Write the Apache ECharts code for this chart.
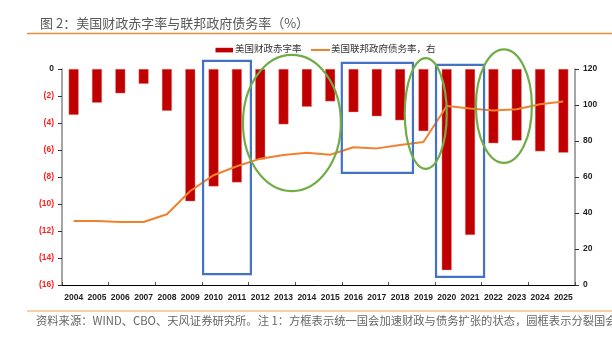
<!DOCTYPE html>
<html>
<head>
<meta charset="utf-8">
<script src="https://cdn.jsdelivr.net/npm/echarts@6/dist/echarts.min.js"></script>
<style>html,body{margin:0;padding:0;background:#fff;}#c{width:612px;height:342px;}</style>
</head>
<body>
<div id="c"></div>
<script>
// ---- data ----
const years = ['2004','2005','2006','2007','2008','2009','2010','2011','2012','2013','2014','2015','2016','2017','2018','2019','2020','2021','2022','2023','2024','2025'];
const deficit = [-3.4,-2.5,-1.8,-1.1,-3.1,-9.8,-8.7,-8.4,-6.7,-4.1,-2.8,-2.4,-3.2,-3.5,-3.8,-4.6,-14.9,-12.3,-5.5,-5.3,-6.1,-6.2];
const debt = [35.5,35.5,35.0,35.0,39.3,52.2,61.0,66.0,70.2,72.2,73.5,72.4,76.5,75.9,77.8,79.4,99.4,98.0,96.9,97.6,100.4,102.0];
const seriesNames = ['美国财政赤字率','美国联邦政府债务率，右'];
const leftTicks = {min:-16, max:0, interval:2};
const rightTicks = {min:0, max:120, interval:20};
// annotation spans (category index range, left-axis value range)
const boxes = [[5.55,7.6,0.6,-15.2],[11.5,14.55,0.45,-7.7],[15.54,17.6,0.3,-15.4]];
const ovals = [[9.36,-4.0,2.1,5.05],[15.1,-3.3,0.9,4.1],[18.45,-2.75,1.2,4.2]];

const G = {left:62, right:37, top:69, bottom:57};
const W = 612, H = 342;
const pw = W - G.left - G.right, ph = H - G.top - G.bottom;
const cw = pw / years.length;
const xp = i => G.left + (i + 0.5) * cw;
const yp = v => G.top + (leftTicks.max - v) / (leftTicks.max - leftTicks.min) * ph;

const chart = echarts.init(document.getElementById('c'));
const cjk = '"Noto Sans CJK SC", sans-serif';
const num = '"Liberation Sans", Arial, sans-serif';
const barColor = '#C00000', lineColor = '#F0822F';

const graphics = [
  {type:'line', shape:{x1:27,y1:33.5,x2:612,y2:33.5}, style:{stroke:'#E8903C', lineWidth:1.5}, z:10},
  {type:'line', shape:{x1:27,y1:311,x2:612,y2:311}, style:{stroke:'#FBCFA4', lineWidth:2}, z:10},
  {type:'text', left:36, top:315, style:{text:'资料来源：WIND、CBO、天风证券研究所。注 1：方框表示统一国会加速财政与债务扩张的状态，圆框表示分裂国会', font:'11.3px '+cjk, fill:'#666'}, z:10},
  // legend
  {type:'rect', shape:{x:215.5,y:47.8,width:17.5,height:4.6}, style:{fill:barColor}, z:10},
  {type:'text', left:235, top:44, style:{text:seriesNames[0], font:'9.5px '+cjk, fill:'#333'}, z:10},
  {type:'line', shape:{x1:311,y1:50,x2:330,y2:50}, style:{stroke:lineColor, lineWidth:2}, z:10},
  {type:'text', left:331, top:44, style:{text:seriesNames[1], font:'9.5px '+cjk, fill:'#333'}, z:10}
];
boxes.forEach(b => {
  const x0 = xp(b[0]), x1 = xp(b[1]), y0 = yp(b[2]), y1 = yp(b[3]);
  graphics.push({type:'rect', shape:{x:x0,y:y0,width:x1-x0,height:y1-y0}, style:{fill:'none', stroke:'#4472C4', lineWidth:2.2}, z:20});
});
ovals.forEach(o => {
  graphics.push({type:'ellipse', shape:{cx:xp(o[0]), cy:yp(o[1]), rx:o[2]*cw, ry:o[3]*ph/(leftTicks.max-leftTicks.min)}, style:{fill:'none', stroke:'#70AD47', lineWidth:2.2}, z:20});
});

chart.setOption({
  animation:false,
  title:{text:'图 2：美国财政赤字率与联邦政府债务率（%）', left:35, top:12, textStyle:{fontFamily:cjk, fontSize:13, fontWeight:'normal', color:'#595959'}},
  grid:G,
  xAxis:[
    {type:'category', data:years, position:'bottom', boundaryGap:true,
      axisLine:{show:false}, axisTick:{show:false},
      axisLabel:{fontFamily:num, fontSize:8.5, fontWeight:'bold', color:'#222', margin:8, interval:0}},
    {type:'category', data:years, position:'top', boundaryGap:true,
      axisLine:{show:true, lineStyle:{color:'#000', width:1}},
      axisTick:{show:true, length:3, lineStyle:{color:'#555'}}, axisLabel:{show:false}}
  ],
  yAxis:[
    {type:'value', min:leftTicks.min, max:leftTicks.max, interval:leftTicks.interval, position:'left',
      splitLine:{show:false},
      axisLine:{show:true, lineStyle:{color:'#888', width:1.5}},
      axisTick:{show:true, length:4, lineStyle:{color:'#333'}},
      axisLabel:{fontFamily:num, fontSize:8.5, fontWeight:'bold', margin:8,
        formatter:v => v < 0 ? '(' + (-v) + ')' : String(v),
        color:v => v < 0 ? '#FF2020' : '#222'}},
    {type:'value', min:rightTicks.min, max:rightTicks.max, interval:rightTicks.interval, position:'right',
      splitLine:{show:false},
      axisLine:{show:true, lineStyle:{color:'#888', width:1.5}},
      axisTick:{show:true, length:4, lineStyle:{color:'#333'}},
      axisLabel:{fontFamily:num, fontSize:8.5, fontWeight:'bold', color:'#222', margin:8}}
  ],
  series:[
    {name:seriesNames[0], type:'bar', data:deficit, barWidth:10, xAxisIndex:0, yAxisIndex:0,
      itemStyle:{color:barColor, borderColor:'#E8A0A0', borderWidth:0.4}},
    {name:seriesNames[1], type:'line', data:debt, xAxisIndex:0, yAxisIndex:1,
      symbol:'none', lineStyle:{color:lineColor, width:2}, itemStyle:{color:lineColor}, z:5}
  ],
  graphic:graphics
});
</script>
</body>
</html>
